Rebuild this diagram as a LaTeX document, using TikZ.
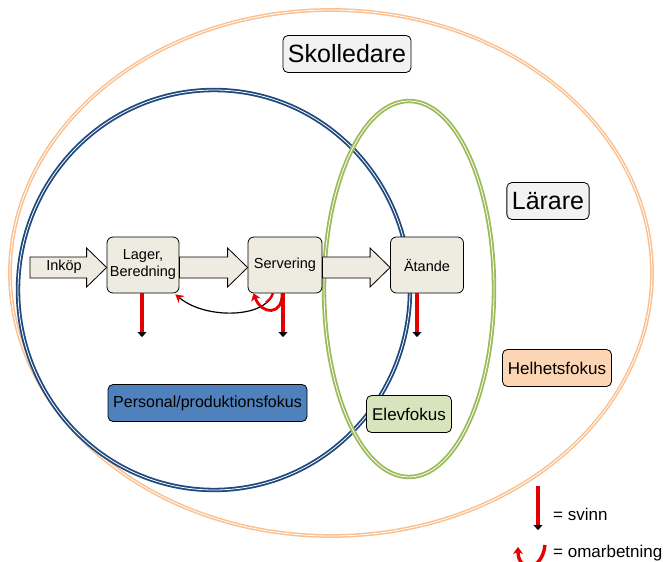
\documentclass[tikz,border=0pt]{standalone}
\usepackage{fontspec}
\setmainfont{Liberation Sans}
\usetikzlibrary{arrows.meta,calc}

\definecolor{helhet}{HTML}{FAC090}
\definecolor{personal}{HTML}{1F497D}
\definecolor{elev}{HTML}{9BBB59}
\definecolor{stegfill}{HTML}{EEECE1}
\definecolor{personalfill}{HTML}{4F81BD}
\definecolor{elevfill}{HTML}{D7E4BD}
\definecolor{helhetfill}{HTML}{FCD5B5}
\definecolor{rollfill}{HTML}{F2F2F2}
\definecolor{svinnrod}{HTML}{E30000}

\tikzset{
  ring/.style={line width=#1, double=white, double distance=0.8pt},
  steg/.style={draw, rounded corners=6pt, fill=stegfill, line width=0.8pt,
    minimum width=73pt, minimum height=56pt, inner sep=1pt, align=center,
    font=\fontsize{14.5}{17}\selectfont},
  roll/.style={draw, rounded corners=5pt, fill=rollfill, line width=0.8pt,
    minimum height=37pt, inner sep=5pt, font=\fontsize{25}{30}\selectfont},
  fokus/.style={draw, rounded corners=5pt, line width=0.8pt,
    minimum height=37pt, inner sep=3pt, font=\fontsize{17}{20}\selectfont},
  blockpil/.style={draw, fill=stegfill, line width=0.8pt, line join=miter},
  omarb/.style={draw=svinnrod, line width=2.8pt,
    -{Stealth[length=7pt,width=10pt,line width=0.4pt]}}
}

% block arrow from #1 to #2
\newcommand\blockpil[2]{%
  \path[blockpil] let \p1=#1, \p2=#2 in
    (\x1,\y1+8pt) -- (\x2-20pt,\y1+8pt) -- (\x2-20pt,\y1+17pt) -- (\x2,\y1-2.5pt)
    -- (\x2-20pt,\y1-22pt) -- (\x2-20pt,\y1-13pt) -- (\x1,\y1-13pt) -- cycle;}

% red loss arrow from #1 to #2
\newcommand\svinnpil[2]{%
  \draw[line width=4.8pt, -{Triangle[length=5pt,width=9pt,line width=0.4pt]}] #1 -- #2;
  \draw[svinnrod, line width=3.4pt, shorten >=5.5pt] #1 -- #2;}

\begin{document}
\begin{tikzpicture}[x=1pt, y=-1pt]
    \useasboundingbox (0,0) rectangle (664,562);

    % Ellipses:
    \draw[ring=1.5pt, draw=helhet] (331,273) ellipse [x radius=321, y radius=263];
    \draw[ring=1.8pt, draw=personal] (214,290) ellipse [x radius=196, y radius=200];
    \draw[ring=1.8pt, draw=elev] (409,289) ellipse [x radius=85, y radius=188];

    % Nodes:
    \node[roll] (skolledare) at (347,54) {Skolledare};
    \node[roll] (larare) at (548,201) {Lärare};
    \node[steg, minimum width=72pt] (lager) at (143,265) {Lager,\\Beredning};
    \node[steg, minimum width=74pt] (servering) at (285,265) {Servering};
    \node[steg] (atande) at (427,265) {Ätande};
    \node[fokus, fill=personalfill, minimum width=199pt, font=\fontsize{16}{19}\selectfont] (personalfokus) at (207.5,403) {Personal/produktionsfokus};
    \node[fokus, fill=elevfill, minimum width=85pt] (elevfokus) at (409,414) {Elevfokus};
    \node[fokus, fill=helhetfill, minimum width=109pt] (helhetsfokus) at (557,368) {Helhetsfokus};

    % Flow arrows:
    \coordinate (inkop) at (30,265);
    \blockpil{(inkop)}{(lager.west)}
    \node[font=\fontsize{14.5}{17}\selectfont] (inkoptext) at (64,267) {Inköp};
    \blockpil{(lager.east)}{(servering.west)}
    \blockpil{(servering.east)}{(atande.west)}

    % Svinn:
    \coordinate (lagerut) at (142,337);
    \coordinate (serveringut) at (283,337);
    \coordinate (atandeut) at (417,337);
    \svinnpil{(lager.south -| lagerut)}{(lagerut)}
    \svinnpil{(servering.south -| serveringut)}{(serveringut)}
    \svinnpil{(atande.south -| atandeut)}{(atandeut)}

    % Omarbetning:
    \draw[line width=1.2pt, -{Stealth[length=8pt,width=9pt,line width=0.4pt,svinnrod]}]
      ($(servering.south)+(-12,0)$) .. controls +(-8,25) and +(30,25) .. ($(lager.south east)+(-4,1)$);
    \draw[svinnrod, line width=2.4pt] ($(servering.south)+(-12,0)$) .. controls +(-3,6) .. ($(servering.south)+(-19,9)$);
    \draw[omarb] ($(servering.south)+(-3,0)$) .. controls +(1,22) and +(8,22) .. ($(servering.south west)+(6,0)$);

    % Legend:
    \coordinate (legsvinnA) at (538,486);
    \coordinate (legsvinnB) at (538,530);
    \svinnpil{(legsvinnA)}{(legsvinnB)}
    \node[anchor=west, inner sep=0pt, font=\fontsize{17}{20}\selectfont] (svinntext) at (553,514) {= svinn};
    \coordinate (legomA) at (545,545);
    \coordinate (legomB) at (518,547);
    \draw[omarb, line width=3.4pt] (legomA) .. controls (542,572) and (518,572) .. (legomB);
    \node[anchor=west, inner sep=0pt, font=\fontsize{17}{20}\selectfont] (omarbtext) at (553,553) {= omarbetning};
\end{tikzpicture}
\end{document}
